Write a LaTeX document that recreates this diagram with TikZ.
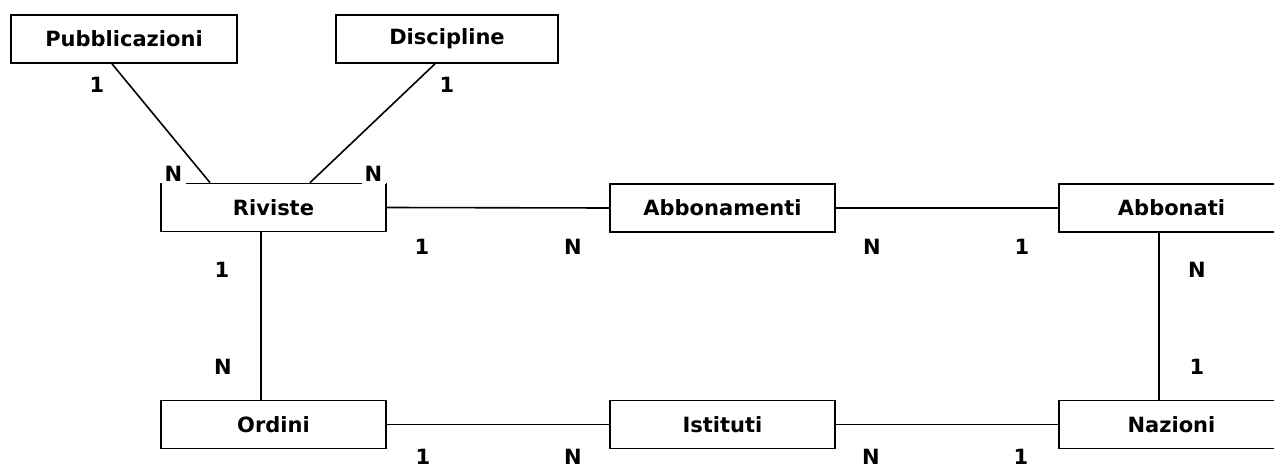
\documentclass[tikz,border=0pt]{standalone}
\usepackage{fontspec}
\newfontfamily\erfont{DejaVu Sans}
\begin{document}
\begin{tikzpicture}[x=1pt,y=-1pt,
  ent/.style={draw,line width=1.7pt,fill=white,minimum width=225pt,minimum height=48pt,inner sep=0pt,
    font=\erfont\bfseries\fontsize{21}{23}\selectfont},
  card/.style={inner sep=0pt,font=\erfont\bfseries\fontsize{21}{23}\selectfont},
  cardw/.style={card,fill=white,minimum width=24pt,minimum height=20pt},
  rel/.style={line width=1.6pt}]
\useasboundingbox (0,0) rectangle (1274,468);
\clip (0,0) rectangle (1274,468);
% entities
\node[ent,minimum width=226pt] (pub) at (124,39) {Pubblicazioni};
\node[ent,minimum width=222pt] (dis) at (447,39) {Discipline};
\node[ent] (riv) at (273.5,207.5) {Riviste};
\node[ent] (abm) at (722.5,208) {Abbonamenti};
\node[ent] (abt) at (1171.5,208) {Abbonati};
\node[ent] (ord) at (273.5,424.5) {Ordini};
\node[ent] (ist) at (722.5,424.5) {Istituti};
\node[ent] (naz) at (1171.5,424.5) {Nazioni};
% connectors
\draw[rel] ([xshift=-12pt]pub.south) -- ([xshift=-63.5pt]riv.north);
\draw[rel] ([xshift=-12pt]dis.south) -- ([xshift=36.5pt]riv.north);
\draw[rel] (riv.east) -- (abm.west);
\draw[rel] (abm.east) -- (abt.west);
\draw[rel] ([xshift=-12.5pt]riv.south) -- ([xshift=-12.5pt]ord.north);
\draw[rel] ([xshift=-12.5pt]abt.south) -- ([xshift=-12.5pt]naz.north);
\draw[rel] (ord.east) -- (ist.west);
\draw[rel] (ist.east) -- (naz.west);
% cardinalities
\node[card] (c1) at (97,85) {1};
\node[card] (c2) at (447,85) {1};
\node[cardw] (c3) at (173.5,174) {N};
\node[cardw] (c4) at (373.5,174) {N};
\node[card] (c5) at (422,247) {1};
\node[card] (c6) at (573,247) {N};
\node[card] (c7) at (872,247) {N};
\node[card] (c8) at (1022,247) {1};
\node[card] (c9) at (222,270) {1};
\node[card] (c10) at (223,367) {N};
\node[card] (c11) at (1197,270) {N};
\node[card] (c12) at (1197,367) {1};
\node[card] (c13) at (423,457) {1};
\node[card] (c14) at (573,457) {N};
\node[card] (c15) at (871,457) {N};
\node[card] (c16) at (1021,457) {1};
\end{tikzpicture}
\end{document}
